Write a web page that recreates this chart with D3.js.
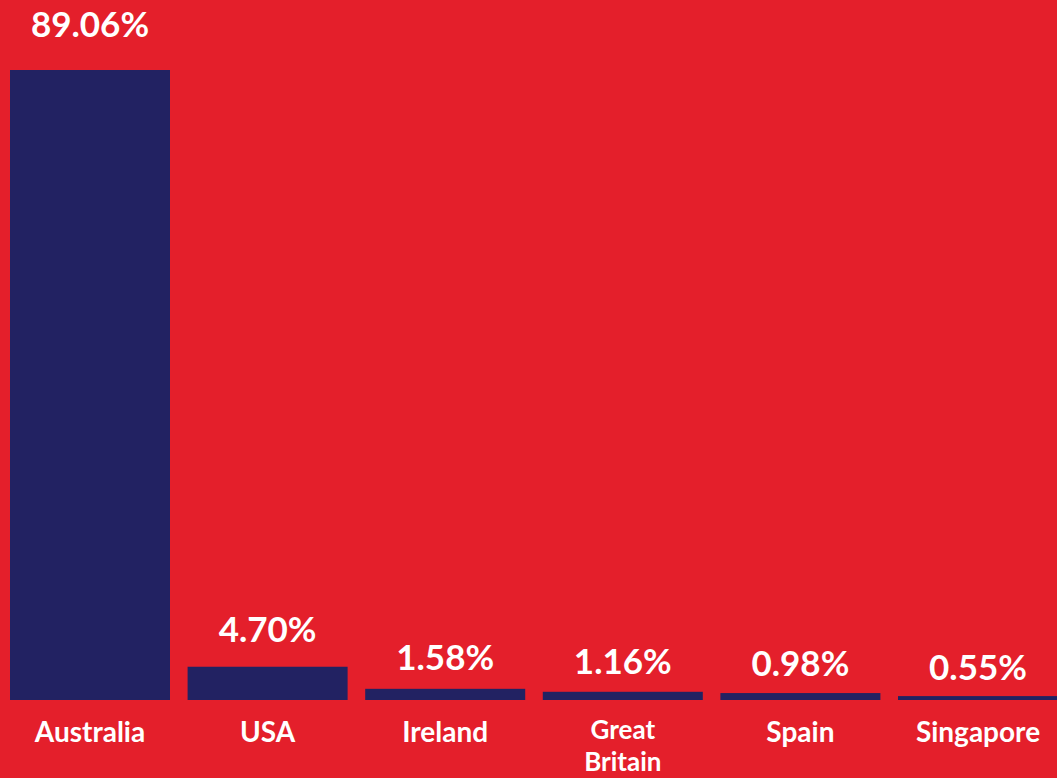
<!DOCTYPE html>
<html>
<head>
<meta charset="utf-8">
<script src="https://cdn.jsdelivr.net/npm/d3@7"></script>
<style>
  html, body { margin: 0; padding: 0; background: #E41F2B; overflow: hidden; }
  svg { display: block; }
</style>
</head>
<body>
<svg id="chart" width="1057" height="778"></svg>
<script>
const categories = ["Australia", "USA", "Ireland", "Great Britain", "Spain", "Singapore"];
const values = [89.06, 4.70, 1.58, 1.16, 0.98, 0.55];
const valueLabels = ["89.06%", "4.70%", "1.58%", "1.16%", "0.98%", "0.55%"];
const categoryLines = [["Australia"], ["USA"], ["Ireland"], ["Great", "Britain"], ["Spain"], ["Singapore"]];

const W = 1057, H = 778;
const svg = d3.select("#chart");
svg.append("rect").attr("width", W).attr("height", H).attr("fill", "#E41F2B");

const step = 177.6, gap = 17.6;
const x = d3.scaleBand()
  .domain(categories)
  .range([10, 10 + step * categories.length - gap])
  .paddingInner(gap / step)
  .paddingOuter(0);

const y = d3.scaleLinear()
  .domain([0, d3.max(values)])
  .range([700, 70]);

const data = categories.map((c, i) => ({ c, v: values[i], label: valueLabels[i], lines: categoryLines[i] }));

svg.selectAll("rect.bar")
  .data(data)
  .join("rect")
  .attr("class", "bar")
  .attr("x", d => x(d.c))
  .attr("y", d => y(d.v))
  .attr("width", x.bandwidth())
  .attr("height", d => y(0) - y(d.v))
  .attr("fill", "#222262");

svg.selectAll("text.val")
  .data(data)
  .join("text")
  .attr("class", "val")
  .attr("x", d => x(d.c) + x.bandwidth() / 2)
  .attr("y", d => {
    const h = y(0) - y(d.v);
    return y(d.v) - (15 + 0.3 * Math.min(h, 60));
  })
  .attr("text-anchor", "middle")
  .attr("fill", "#ffffff")
  .attr("font-family", "Lato, 'Open Sans', sans-serif")
  .attr("font-weight", 700)
  .attr("font-size", 35)
  .text(d => d.label);

// category labels: one text element per line
const catLines = [];
data.forEach(d => d.lines.forEach((l, i) => catLines.push({ c: d.c, l, i, n: d.lines.length })));

svg.selectAll("text.cat")
  .data(catLines)
  .join("text")
  .attr("class", "cat")
  .attr("x", t => x(t.c) + x.bandwidth() / 2)
  .attr("y", t => (t.n > 1 ? 739 + t.i * 32 : 742))
  .attr("text-anchor", "middle")
  .attr("fill", "#ffffff")
  .attr("font-family", "Lato, 'Open Sans', sans-serif")
  .attr("font-weight", 700)
  .attr("font-size", t => t.n > 1 ? 26 : 28)
  .text(t => t.l);
</script>
</body>
</html>
